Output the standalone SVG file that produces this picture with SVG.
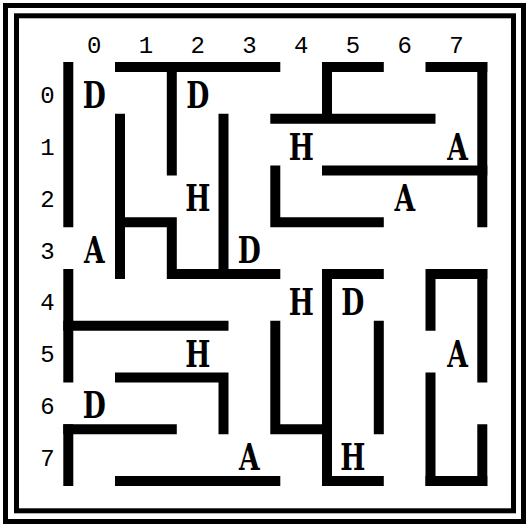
<svg xmlns="http://www.w3.org/2000/svg" width="529" height="529" viewBox="0 0 529 529">
<style>
.frame{fill:none;stroke:#000;stroke-width:5}
.wall{fill:none;stroke:#000;stroke-width:10;stroke-linecap:square;stroke-linejoin:miter}
.ax{font-family:"Liberation Mono","Courier New",monospace;font-size:24px;fill:#000;text-anchor:middle}
.lbl{font-family:"DejaVu Serif","Liberation Serif",serif;font-weight:bold;font-size:38px;fill:#000;text-anchor:middle}
</style>
<rect width="529" height="529" fill="#fff"/>
<g id="frame">
<rect class="frame" x="5.5" y="5.5" width="518" height="516"/>
<rect class="frame" x="16.5" y="15.8" width="497" height="495"/>
</g>
<g id="axes">
<text class="ax" x="94.2" y="53.3">0</text>
<text class="ax" x="145.9" y="53.3">1</text>
<text class="ax" x="197.7" y="53.3">2</text>
<text class="ax" x="249.4" y="53.3">3</text>
<text class="ax" x="301.2" y="53.3">4</text>
<text class="ax" x="352.9" y="53.3">5</text>
<text class="ax" x="404.7" y="53.3">6</text>
<text class="ax" x="456.4" y="53.3">7</text>
<text class="ax" x="47.5" y="103.4">0</text>
<text class="ax" x="47.5" y="155.1">1</text>
<text class="ax" x="47.5" y="206.9">2</text>
<text class="ax" x="47.5" y="258.6">3</text>
<text class="ax" x="47.5" y="310.4">4</text>
<text class="ax" x="47.5" y="362.1">5</text>
<text class="ax" x="47.5" y="413.9">6</text>
<text class="ax" x="47.5" y="465.6">7</text>
</g>
<g id="walls">
<path class="wall" d="M68.3 67V222.3M68.3 274V377.5M68.3 429.3V481"/>
<path class="wall" d="M120 67H275.3M327 67H378.8M430.5 67H482.3"/>
<path class="wall" d="M482.3 67V222.3M482.3 274V377.5M482.3 429.3V481"/>
<path class="wall" d="M120 481H275.3M327 481H378.8M430.5 481H482.3"/>
<path class="wall" d="M120 118.8V274"/>
<path class="wall" d="M120 222.3H171.8V274H275.3"/>
<path class="wall" d="M171.8 67V170.5"/>
<path class="wall" d="M223.5 118.8V274"/>
<path class="wall" d="M327 67V118.8M275.3 118.8H430.5"/>
<path class="wall" d="M327 170.5H482.3"/>
<path class="wall" d="M275.3 170.5V222.3H378.8"/>
<path class="wall" d="M378.8 274H327V481"/>
<path class="wall" d="M430.5 325.8V274H482.3"/>
<path class="wall" d="M68.3 325.8H223.5"/>
<path class="wall" d="M275.3 325.8V429.3H327"/>
<path class="wall" d="M378.8 325.8V429.3"/>
<path class="wall" d="M120 377.5H223.5V429.3"/>
<path class="wall" d="M68.3 429.3H171.8"/>
<path class="wall" d="M430.5 377.5V481"/>
</g>
<g id="cell-0-0" transform="translate(94.2 107.9) scale(0.7 1)"><text class="lbl">D</text></g>
<g id="cell-2-0" transform="translate(197.7 107.9) scale(0.7 1)"><text class="lbl">D</text></g>
<g id="cell-4-1" transform="translate(301.2 159.6) scale(0.7 1)"><text class="lbl">H</text></g>
<g id="cell-7-1" transform="translate(457.5 159.6) scale(0.7 1)"><text class="lbl">A</text></g>
<g id="cell-2-2" transform="translate(197.7 211.4) scale(0.7 1)"><text class="lbl">H</text></g>
<g id="cell-6-2" transform="translate(404.7 211.4) scale(0.7 1)"><text class="lbl">A</text></g>
<g id="cell-0-3" transform="translate(94.2 263.1) scale(0.7 1)"><text class="lbl">A</text></g>
<g id="cell-3-3" transform="translate(249.4 263.1) scale(0.7 1)"><text class="lbl">D</text></g>
<g id="cell-4-4" transform="translate(301.2 314.9) scale(0.7 1)"><text class="lbl">H</text></g>
<g id="cell-5-4" transform="translate(352.9 314.9) scale(0.7 1)"><text class="lbl">D</text></g>
<g id="cell-2-5" transform="translate(197.7 366.6) scale(0.7 1)"><text class="lbl">H</text></g>
<g id="cell-7-5" transform="translate(457.5 366.6) scale(0.7 1)"><text class="lbl">A</text></g>
<g id="cell-0-6" transform="translate(94.2 418.4) scale(0.7 1)"><text class="lbl">D</text></g>
<g id="cell-3-7" transform="translate(249.4 470.1) scale(0.7 1)"><text class="lbl">A</text></g>
<g id="cell-5-7" transform="translate(352.9 470.1) scale(0.7 1)"><text class="lbl">H</text></g>
</svg>
